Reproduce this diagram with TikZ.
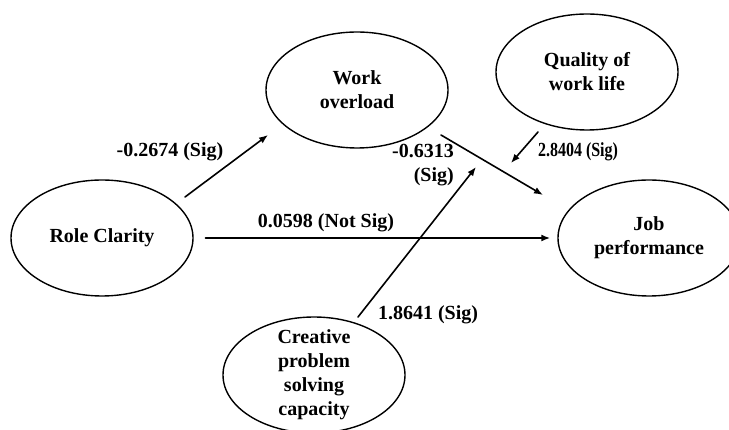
\documentclass[tikz,border=0pt]{standalone}
\usepackage{fontspec}
\setmainfont{Liberation Serif}
\usetikzlibrary{arrows.meta,shapes.geometric}

\begin{document}
\begin{tikzpicture}[x=1pt, y=-1pt, line cap=round, line join=round, >={Latex[length=9pt,width=7pt]},
  construct/.style={ellipse, draw, line width=1.4pt, minimum width=182pt, minimum height=116pt,
    inner sep=0pt, align=center, font=\bfseries\fontsize{20}{24}\selectfont},
  link/.style={->, line width=1.6pt},
  coef/.style={inner sep=1pt, font=\bfseries\fontsize{20}{24}\selectfont}]
  \clip (0,0) rectangle (729,430);
  % Constructs of the model.
  \node[construct] (role) at (102,238) {Role Clarity};
  \node[construct] (work) at (357,90) {Work\\overload};
  \node[construct] (qwl) at (587,72) {Quality of\\work life};
  \node[construct] (job) at (649,238) {Job\\performance};
  \node[construct, inner sep=-12pt] (cps) at (314,375) {Creative\\problem\\solving\\capacity};
  % Direct paths.
  \draw[link] ([shift={(83,-41)}]role.center) -- ([shift={(-89,45)}]work.center);
  \draw[link, line width=2pt] ([xshift=12pt]role.east) -- ([xshift=-7pt]job.west);
  \draw[link] ([shift={(84,45)}]work.center) -- ([shift={(-106,-43)}]job.center);
  % Moderators pointing at the work overload path.
  \coordinate (qtip) at (511,163);
  \coordinate (ctip) at (476,167);
  \draw[link] ([shift={(-49,60)}]qwl.center) -- (qtip);
  \draw[link] ([shift={(44,-58)}]cps.center) -- (ctip);
  % Path coefficients.
  \node[coef] (rw) at (170,152) {-0.2674 (Sig)};
  \node[coef] (rj) at (326,223) {0.0598 (Not Sig)};
  \node[coef, align=right, anchor=east] (wj) at (455,165) {-0.6313\\(Sig)};
  \node[coef] (qm) at (578,152) {\scalebox{0.8}[1]{2.8404 (Sig)}};
  \node[coef] (cm) at (428,315) {1.8641 (Sig)};
\end{tikzpicture}
\end{document}
